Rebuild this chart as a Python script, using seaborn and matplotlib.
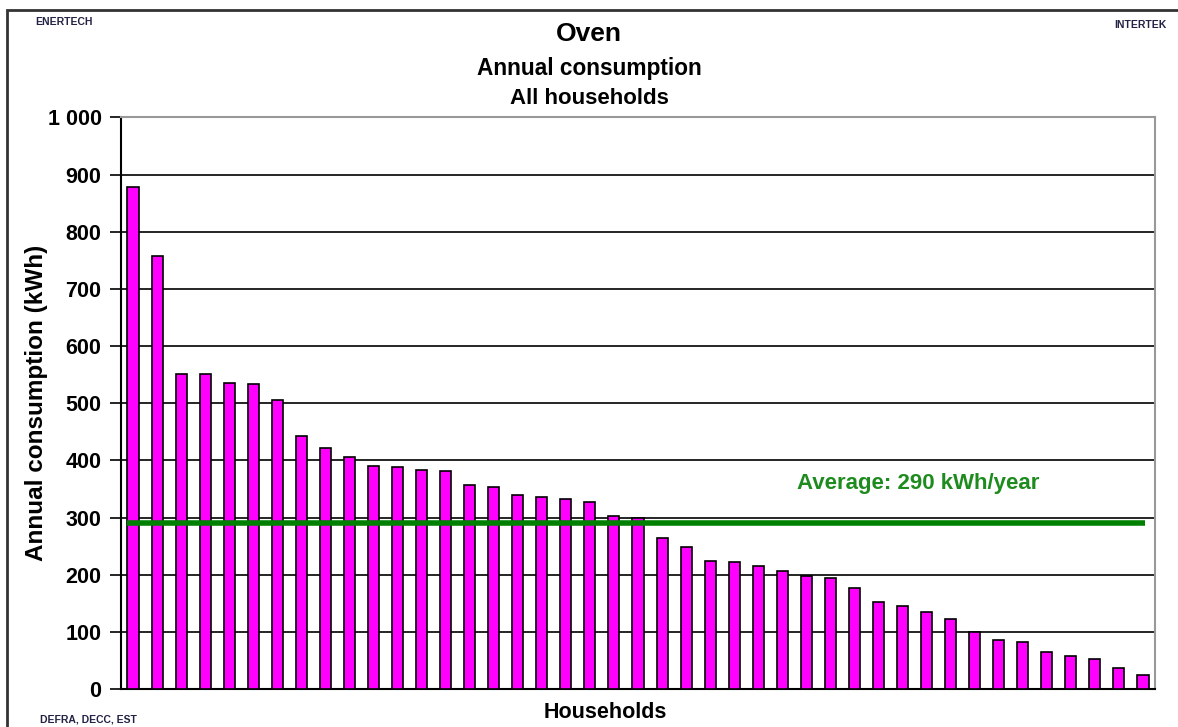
import matplotlib
matplotlib.use("Agg")
import matplotlib.pyplot as plt
import matplotlib.ticker as mticker
import seaborn as sns
import pandas as pd
import numpy as np

# data (kWh per household, sorted)
households = list(range(1, 44))
consumption = [879, 757, 552, 552, 536, 533, 506, 442, 421, 406,
               391, 388, 384, 381, 357, 354, 339, 336, 333, 327,
               303, 299, 265, 249, 224, 222, 216, 206, 198, 194,
               176, 152, 146, 134, 122, 99, 86, 82, 64, 58,
               52, 37, 24]
average = 290
y_ticks = [0, 100, 200, 300, 400, 500, 600, 700, 800, 900, 1000]

df = pd.DataFrame({"household": households, "kwh": consumption})

sns.set_theme(style="white")
plt.rcParams['font.family'] = ['Liberation Sans', 'DejaVu Sans']
plt.rcParams['font.weight'] = 'bold'
plt.rcParams['text.color'] = 'black'
plt.rcParams['axes.labelcolor'] = 'black'
plt.rcParams['ytick.color'] = 'black'

fig = plt.figure(figsize=(11.78, 7.27), dpi=100)
ax = fig.add_axes([0.1027, 0.0523, 0.8778, 0.7861])

sns.barplot(data=df, x="household", y="kwh", color="#FF00FF",
            saturation=1, width=0.46, edgecolor="black", linewidth=1.2,
            ax=ax, zorder=3)

# average line
ax.plot([-0.23, len(households) - 1 + 0.1], [average, average],
        color="#008000", lw=4, zorder=4, solid_capstyle="butt")
ax.text(27.6, 360, f"Average: {average} kWh/year", color="#1E8B1E",
        fontsize=16, fontweight="bold", va="center", ha="left")

ax.set_xlim(-0.5, len(households) - 0.5)
ax.set_ylim(0, 1000)
ax.set_yticks(y_ticks)
ax.yaxis.set_major_formatter(mticker.FuncFormatter(
    lambda v, p: f"{int(v):,}".replace(",", " ")))
ax.set_xticks([])
ax.yaxis.grid(True, color="black", lw=1.2, zorder=0)
ax.set_axisbelow(True)
ax.tick_params(axis="y", which="major", left=True, length=8, width=1.2,
               color="black", labelsize=15.5, pad=6)
for lab in ax.get_yticklabels():
    lab.set_fontweight("bold")

for side in ["left", "bottom"]:
    ax.spines[side].set_color("black")
    ax.spines[side].set_linewidth(1.5)
for side in ["top", "right"]:
    ax.spines[side].set_color("#999999")
    ax.spines[side].set_linewidth(1.5)

ax.set_xlabel("Households", fontsize=15.5, fontweight="bold")
ax.xaxis.set_label_coords(0.468, -0.022)
ax.set_ylabel("Annual consumption (kWh)", fontsize=17.5, fontweight="bold",
              labelpad=0)

# headings
fig.text(0.5, 0.953, "Oven", ha="center", va="center", fontsize=19,
         fontweight="bold")
fig.text(0.5, 0.906, "Annual consumption", ha="center", va="center",
         fontsize=16.3, fontweight="bold")
fig.text(0.5, 0.864, "All households", ha="center", va="center",
         fontsize=16, fontweight="bold")
fig.text(0.030, 0.970, "ENERTECH", ha="left", va="center", fontsize=7.5,
         fontweight="bold", color="#222244")
fig.text(0.990, 0.965, "INTERTEK", ha="right", va="center", fontsize=7.5,
         fontweight="bold", color="#222244")
fig.text(0.034, 0.010, "DEFRA, DECC, EST", ha="left", va="center",
         fontsize=7.5, fontweight="bold", color="#222244")

# outer frame (top and left edges visible)
frame = plt.Rectangle((7 / 1178, -0.05), 1.2, 1 - 10 / 727 + 0.05,
                      transform=fig.transFigure, fill=False,
                      edgecolor="#333333", lw=2)
fig.patches.append(frame)

fig.savefig("out.png", dpi=100)
